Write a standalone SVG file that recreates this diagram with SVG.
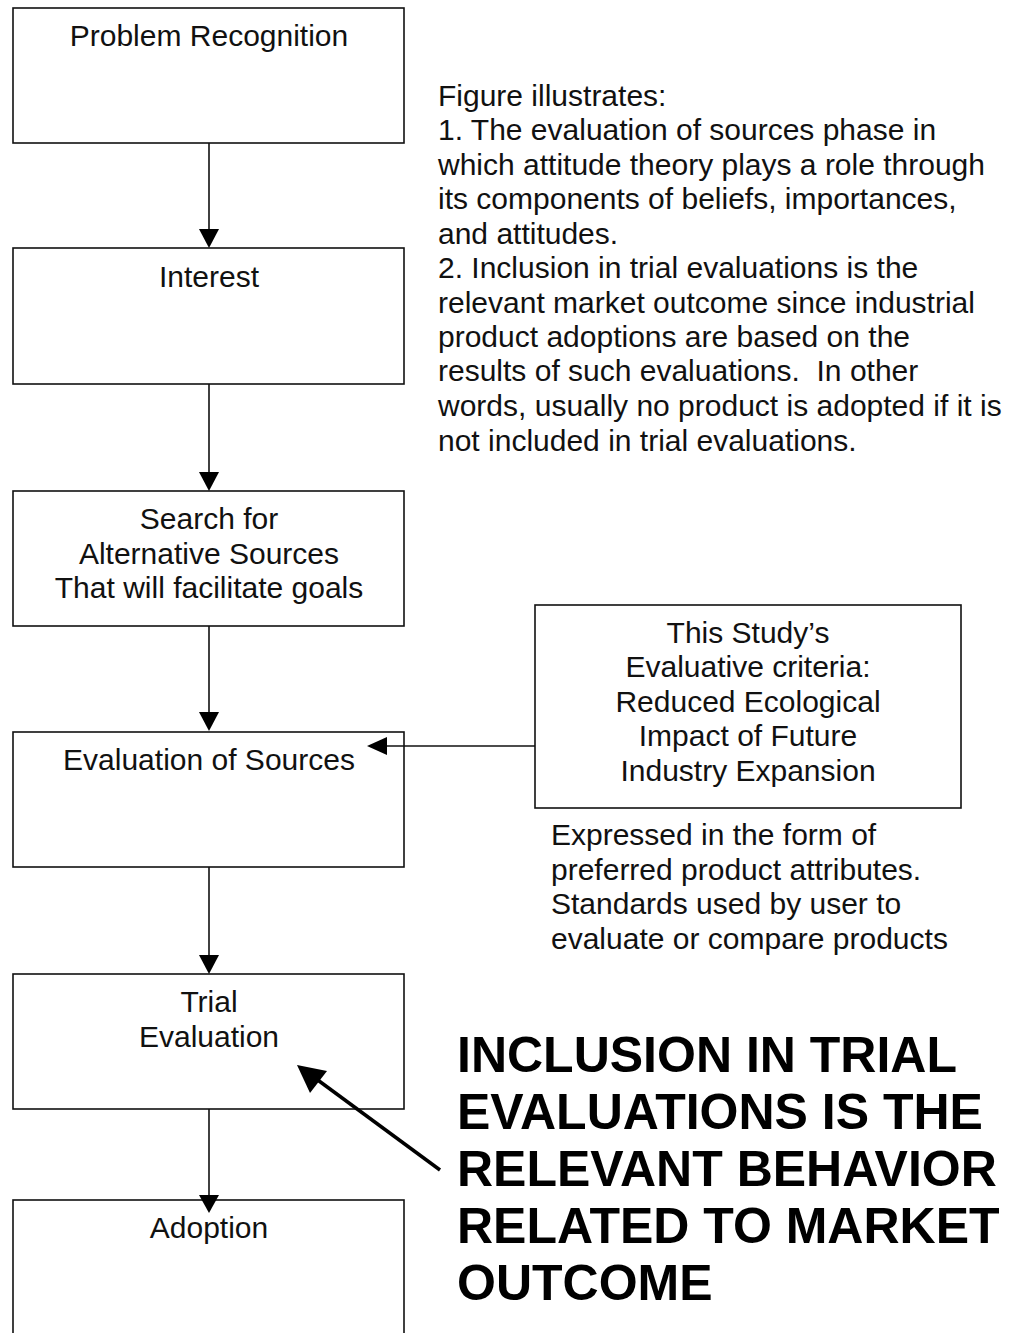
<svg xmlns="http://www.w3.org/2000/svg" width="1009" height="1333" viewBox="0 0 1009 1333">
  <defs>
    <style>
      .box { fill: #fff; stroke: #111; stroke-width: 1.6; }
      .lbl { font-family: "Liberation Sans", Arial, sans-serif; font-size: 30px; fill: #111; }
      .mid { text-anchor: middle; }
      .big { font-family: "Liberation Sans", Arial, sans-serif; font-size: 50px; font-weight: bold; fill: #000; }
      .wire { stroke: #111; stroke-width: 1.6; fill: none; }
      .head { fill: #000; }
    </style>
  </defs>
  <rect width="1009" height="1333" fill="#fff"/>

  <g id="problem-recognition">
    <rect class="box" x="13" y="8" width="391" height="135"/>
    <text class="lbl mid" x="209" y="46">Problem Recognition</text>
  </g>

  <g id="interest">
    <rect class="box" x="13" y="248" width="391" height="136"/>
    <text class="lbl mid" x="209" y="287">Interest</text>
  </g>

  <g id="search">
    <rect class="box" x="13" y="491" width="391" height="135"/>
    <text class="lbl mid" x="209" y="529">Search for</text>
    <text class="lbl mid" x="209" y="564">Alternative Sources</text>
    <text class="lbl mid" x="209" y="598">That will facilitate goals</text>
  </g>

  <g id="evaluation-of-sources">
    <rect class="box" x="13" y="732" width="391" height="135"/>
    <text class="lbl mid" x="209" y="770">Evaluation of Sources</text>
  </g>

  <g id="trial-evaluation">
    <rect class="box" x="13" y="974" width="391" height="135"/>
    <text class="lbl mid" x="209" y="1012">Trial</text>
    <text class="lbl mid" x="209" y="1047">Evaluation</text>
  </g>

  <g id="adoption">
    <rect class="box" x="13" y="1200" width="391" height="150"/>
    <text class="lbl mid" x="209" y="1238">Adoption</text>
  </g>

  <g id="criteria">
    <rect class="box" x="535" y="605" width="426" height="203"/>
    <text class="lbl mid" x="748" y="643">This Study’s</text>
    <text class="lbl mid" x="748" y="677">Evaluative criteria:</text>
    <text class="lbl mid" x="748" y="712">Reduced Ecological</text>
    <text class="lbl mid" x="748" y="746">Impact of Future</text>
    <text class="lbl mid" x="748" y="781">Industry Expansion</text>
  </g>

  <g id="criteria-note">
    <text class="lbl" x="551" y="845">Expressed in the form of</text>
    <text class="lbl" x="551" y="880">preferred product attributes.</text>
    <text class="lbl" x="551" y="914">Standards used by user to</text>
    <text class="lbl" x="551" y="949">evaluate or compare products</text>
  </g>

  <g id="figure-notes">
    <text class="lbl" x="438" y="106">Figure illustrates:</text>
    <text class="lbl" x="438" y="140">1. The evaluation of sources phase in</text>
    <text class="lbl" x="438" y="175">which attitude theory plays a role through</text>
    <text class="lbl" x="438" y="209">its components of beliefs, importances,</text>
    <text class="lbl" x="438" y="244">and attitudes.</text>
    <text class="lbl" x="438" y="278">2. Inclusion in trial evaluations is the</text>
    <text class="lbl" x="438" y="313">relevant market outcome since industrial</text>
    <text class="lbl" x="438" y="347">product adoptions are based on the</text>
    <text class="lbl" x="438" y="381" xml:space="preserve">results of such evaluations.  In other</text>
    <text class="lbl" x="438" y="416">words, usually no product is adopted if it is</text>
    <text class="lbl" x="438" y="451">not included in trial evaluations.</text>
  </g>

  <g id="callout">
    <text class="big" x="457" y="1072">INCLUSION IN TRIAL</text>
    <text class="big" x="457" y="1129">EVALUATIONS IS THE</text>
    <text class="big" x="457" y="1186">RELEVANT BEHAVIOR</text>
    <text class="big" x="457" y="1243">RELATED TO MARKET</text>
    <text class="big" x="457" y="1300">OUTCOME</text>
  </g>

  <!-- connectors, drawn over the boxes -->
  <g id="connectors">
    <line class="wire" x1="209" y1="143" x2="209" y2="232"/>
    <polygon class="head" points="199,229 219,229 209,248"/>
    <line class="wire" x1="209" y1="384" x2="209" y2="475"/>
    <polygon class="head" points="199,472 219,472 209,491"/>
    <line class="wire" x1="209" y1="626" x2="209" y2="715"/>
    <polygon class="head" points="199,712 219,712 209,731"/>
    <line class="wire" x1="209" y1="867" x2="209" y2="958"/>
    <polygon class="head" points="199,955 219,955 209,974"/>
    <line class="wire" x1="209" y1="1109" x2="209" y2="1198"/>
    <polygon class="head" points="199,1195 219,1195 209,1213"/>
    <!-- criteria feeding into evaluation -->
    <line class="wire" x1="535" y1="746" x2="384" y2="746"/>
    <polygon class="head" points="367,746 387,737 387,755"/>
    <!-- callout pointing at trial evaluation -->
    <line x1="440" y1="1170" x2="315" y2="1078" stroke="#000" stroke-width="3.5"/>
    <polygon class="head" points="297,1065 327,1071 310,1093"/>
  </g>
</svg>
